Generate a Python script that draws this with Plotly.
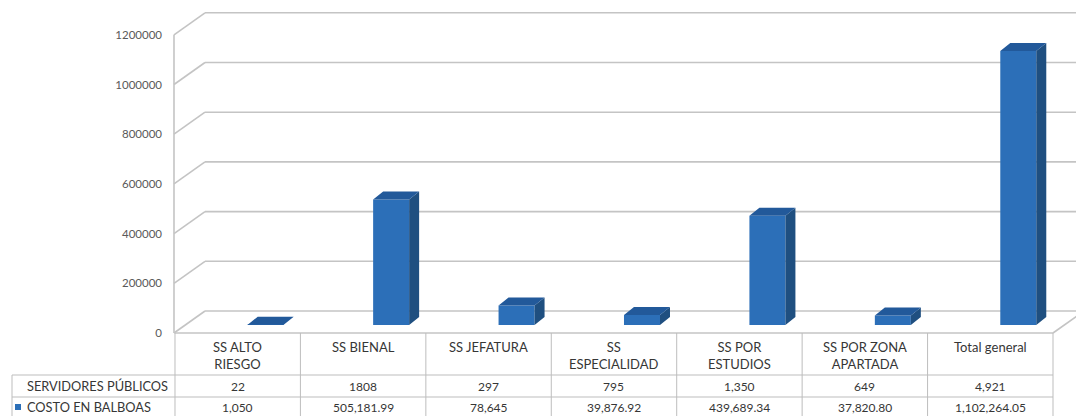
import plotly.graph_objects as go

# ---- data -------------------------------------------------------------
categories = ["SS ALTO<br>RIESGO", "SS BIENAL", "SS JEFATURA", "SS<br>ESPECIALIDAD",
              "SS POR<br>ESTUDIOS", "SS POR ZONA<br>APARTADA", "Total general"]
servidores_labels = ["22", "1808", "297", "795", "1,350", "649", "4,921"]
costo = [1050, 505181.99, 78645, 39876.92, 439689.34, 37820.80, 1102264.05]
row_labels = ["SERVIDORES PÚBLICOS", "COSTO EN BALBOAS"]
y_ticks = [0, 200000, 400000, 600000, 800000, 1000000, 1200000]

# ---- geometry of the oblique 3-D frame ---------------------------------
W, H = 1076, 416
PX_CAT = 125.43          # pixels per category column
CAT0_PX = 237.7          # centre of the first category column
Y0_PX = 333.0            # front floor line (value 0)
PX_PER_VAL = 49.7 / 200000


def xd(px):
    return (px - CAT0_PX) / PX_CAT


def yd(py):
    return (Y0_PX - py) / PX_PER_VAL


def yp(py):
    return 1 - py / H


def dx(px):
    return px / PX_CAT


def dv(px):
    return px / PX_PER_VAL


WALL_DX, WALL_DY = dx(31), dv(22)        # depth of the floor / side wall
BAR_OFF, BAR_W = dx(10), dx(36)          # front face of each column
BAR_BASE = dv(8)                         # columns stand mid-depth
BAR_DX, BAR_DY = dx(10), dv(8)           # depth of each column

GRID = "#C4C4C4"
TABLE = "#BDBDBD"
TXT = "#363636"
FRONT, SIDE, TOP = "#2C6FB8", "#1F4F80", "#22599A"
FONT = "Lato"

idx = list(range(len(categories)))
AXIS_X = xd(174)

fig = go.Figure()

# front faces
fig.add_trace(go.Bar(
    x=idx, y=costo, base=BAR_BASE, width=BAR_W, offset=BAR_OFF,
    marker=dict(color=FRONT, line=dict(width=0)), showlegend=False,
    hoverinfo="skip"))

# side and top faces
side_x, side_y, top_x, top_y = [], [], [], []
for i, v in zip(idx, costo):
    xl = i + BAR_OFF
    xr = xl + BAR_W
    b = BAR_BASE
    t = BAR_BASE + v
    side_x += [xr, xr + BAR_DX, xr + BAR_DX, xr, xr, None]
    side_y += [b, b + BAR_DY, t + BAR_DY, t, b, None]
    top_x += [xl, xl + BAR_DX, xr + BAR_DX, xr, xl, None]
    top_y += [t, t + BAR_DY, t + BAR_DY, t, t, None]
fig.add_trace(go.Scatter(x=side_x, y=side_y, mode="lines", fill="toself",
                         fillcolor=SIDE, line=dict(width=0), showlegend=False,
                         hoverinfo="skip"))
fig.add_trace(go.Scatter(x=top_x, y=top_y, mode="lines", fill="toself",
                         fillcolor=TOP, line=dict(width=0), showlegend=False,
                         hoverinfo="skip"))

shapes = []
# back wall gridlines and side wall diagonals
x_back = AXIS_X + WALL_DX
for t in y_ticks:
    shapes.append(dict(type="line", xref="x", yref="y", layer="below",
                       x0=x_back, x1=xd(W + 10), y0=t + WALL_DY, y1=t + WALL_DY,
                       line=dict(color=GRID, width=1.6)))
    shapes.append(dict(type="line", xref="x", yref="y", layer="below",
                       x0=AXIS_X, x1=x_back, y0=t, y1=t + WALL_DY,
                       line=dict(color=GRID, width=1.6)))
# front vertical axis
shapes.append(dict(type="line", xref="x", yref="y", layer="below",
                   x0=AXIS_X, x1=AXIS_X, y0=0, y1=y_ticks[-1],
                   line=dict(color=GRID, width=1.6)))
# floor right edge
x_end = len(categories) - 0.5
shapes.append(dict(type="line", xref="x", yref="y", layer="below",
                   x0=x_end, x1=x_end + WALL_DX, y0=0, y1=WALL_DY,
                   line=dict(color=GRID, width=1.6)))
# floor front edge / top of the data table
shapes.append(dict(type="line", xref="x", yref="y", layer="below",
                   x0=-0.5, x1=x_end, y0=0, y1=0,
                   line=dict(color=GRID, width=1.6)))

# data table grid
x_left = xd(12)
for py in (375, 397):
    shapes.append(dict(type="line", xref="x", yref="paper",
                       x0=x_left, x1=x_end, y0=yp(py), y1=yp(py),
                       line=dict(color=TABLE, width=1)))
for k in range(len(categories) + 1):
    shapes.append(dict(type="line", xref="x", yref="paper",
                       x0=k - 0.5, x1=k - 0.5, y0=yp(333), y1=yp(H + 2),
                       line=dict(color=TABLE, width=1)))
shapes.append(dict(type="line", xref="x", yref="paper",
                   x0=x_left, x1=x_left, y0=yp(375), y1=yp(H + 2),
                   line=dict(color=TABLE, width=1)))
# legend key for the cost series
shapes.append(dict(type="rect", xref="paper", yref="paper",
                   x0=15 / W, x1=21 / W, y0=yp(410), y1=yp(404),
                   fillcolor=FRONT, line=dict(width=0)))


def fmt_cost(v):
    return f"{v:,.0f}" if float(v).is_integer() else f"{v:,.2f}"


annotations = []
for i, c in enumerate(categories):
    annotations.append(dict(x=i, y=yp(337), xref="x", yref="paper",
                            text=c, showarrow=False, yanchor="top",
                            xanchor="center",
                            font=dict(family=FONT, size=13, color=TXT)))
    annotations.append(dict(x=i, y=yp(386), xref="x", yref="paper",
                            text=servidores_labels[i], showarrow=False,
                            xanchor="center", yanchor="middle",
                            font=dict(family=FONT, size=12, color=TXT)))
    annotations.append(dict(x=i, y=yp(407), xref="x", yref="paper",
                            text=fmt_cost(costo[i]), showarrow=False,
                            xanchor="center", yanchor="middle",
                            font=dict(family=FONT, size=12, color=TXT)))
for lbl, py in zip(row_labels, (386, 407)):
    annotations.append(dict(x=25 / W, y=yp(py), xref="paper", yref="paper",
                            text=lbl, showarrow=False, xanchor="left",
                            yanchor="middle",
                            font=dict(family=FONT, size=12.8, color=TXT)))

fig.update_layout(
    width=W, height=H, margin=dict(l=0, r=0, t=0, b=0),
    paper_bgcolor="white", plot_bgcolor="rgba(0,0,0,0)",
    showlegend=False, shapes=shapes, annotations=annotations,
    xaxis=dict(range=[xd(0), xd(W)], domain=[0, 1], visible=False,
               fixedrange=True),
    yaxis=dict(range=[yd(H), yd(0)], domain=[0, 1], anchor="free",
               position=174 / W, showgrid=False, zeroline=False,
               showline=False, tickvals=y_ticks,
               ticktext=[str(t) for t in y_ticks], ticks="",
               ticklabelstandoff=12,
               tickfont=dict(family=FONT, size=11.5, color="#595959"),
               fixedrange=True),
)

fig.write_html("out.html")
